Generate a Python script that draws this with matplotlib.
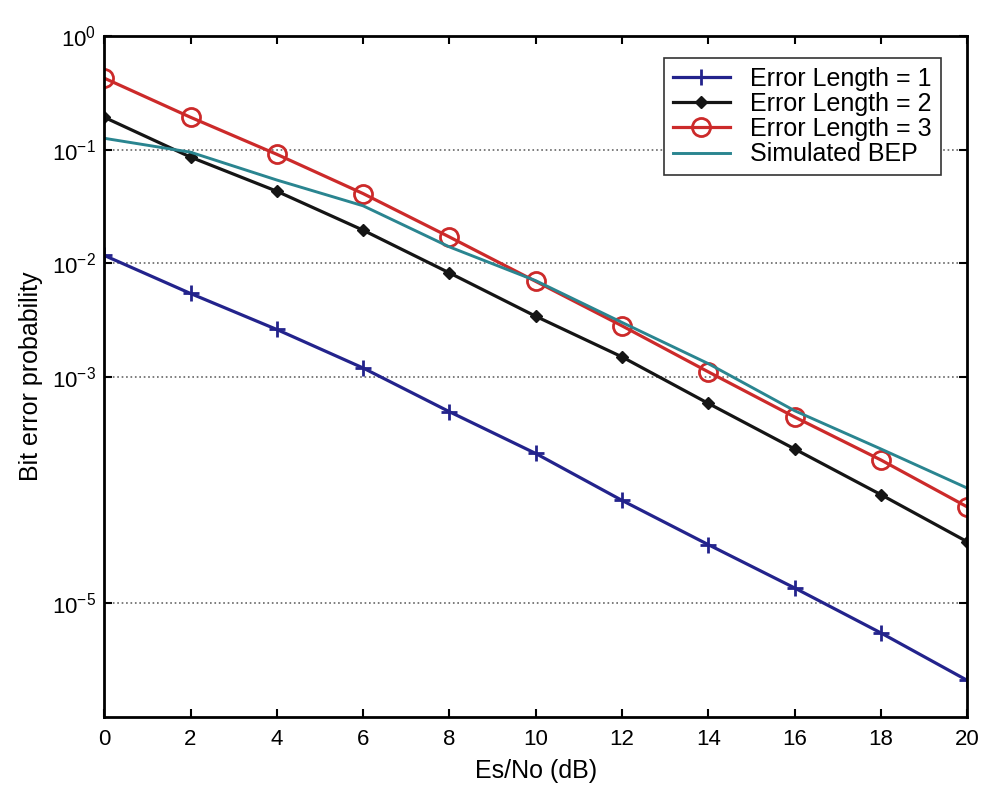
import numpy as np
import matplotlib.pyplot as plt
from matplotlib.ticker import FixedLocator, NullLocator

plt.rcParams['font.family'] = ['Liberation Sans', 'DejaVu Sans']
plt.rcParams['mathtext.fontset'] = 'custom'
plt.rcParams['mathtext.rm'] = 'Liberation Sans'
plt.rcParams['mathtext.it'] = 'Liberation Sans'

# Es/No values (dB)
snr_db = [0, 2, 4, 6, 8, 10, 12, 14, 16, 18, 20]

# bit error probabilities
bep_len1 = [1.17e-2, 5.4e-3, 2.6e-3, 1.19e-3, 4.9e-4, 2.1e-4, 8.1e-5, 3.3e-5, 1.37e-5, 5.5e-6, 2.1e-6]
bep_len2 = [1.93e-1, 8.6e-2, 4.3e-2, 1.95e-2, 8.2e-3, 3.4e-3, 1.49e-3, 5.8e-4, 2.3e-4, 9.1e-5, 3.5e-5]
bep_len3 = [4.27e-1, 1.93e-1, 9.1e-2, 4.1e-2, 1.7e-2, 6.9e-3, 2.8e-3, 1.1e-3, 4.4e-4, 1.84e-4, 7.1e-5]
bep_sim = [1.26e-1, 9.5e-2, 5.4e-2, 3.2e-2, 1.39e-2, 7.0e-3, 3.0e-3, 1.3e-3, 5.0e-4, 2.3e-4, 1.04e-4]

ytick_vals = [1e0, 1e-1, 1e-2, 1e-3, 1e-5]
ytick_labels = [r'$10^{0}$', r'$10^{-1}$', r'$10^{-2}$', r'$10^{-3}$', r'$10^{-5}$']

fig = plt.figure(figsize=(9.83, 7.87), dpi=100)
ax = fig.add_axes([0.106, 0.089, 0.878, 0.865])

ax.semilogy(snr_db, bep_len1, color='#23238c', lw=2.3, marker='+', ms=12, mew=2,
            label='Error Length = 1')
ax.semilogy(snr_db, bep_len2, color='#151515', lw=2.3, marker='D', ms=6,
            label='Error Length = 2')
ax.semilogy(snr_db, bep_len3, color='#cc2a2a', lw=2.3, marker='o', ms=13, mew=2,
            mfc='none', label='Error Length = 3')
ax.semilogy(snr_db, bep_sim, color='#2a8590', lw=2.1, label='Simulated BEP')

ax.set_xlim(0, 20)
ax.set_ylim(1e-6, 1)
ax.set_xticks(snr_db)
ax.yaxis.set_major_locator(FixedLocator(ytick_vals))
ax.yaxis.set_minor_locator(NullLocator())
ax.set_yticklabels(ytick_labels)
ax.yaxis.grid(True, linestyle=':', color='#666666', lw=1.2)

ax.tick_params(direction='in', top=True, right=True, length=6, width=1.5, labelsize=16)
ax.tick_params(axis='x', pad=9)
ax.tick_params(axis='y', pad=6)
for s in ax.spines.values():
    s.set_linewidth(2)

ax.set_xlabel('Es/No (dB)', fontsize=18, labelpad=6)
ax.set_ylabel('Bit error probability', fontsize=18, labelpad=6)

leg = ax.legend(loc='upper right', bbox_to_anchor=(0.969, 0.968), fontsize=18,
                fancybox=False, framealpha=1, edgecolor='#333333',
                handlelength=2.3, handletextpad=0.8, borderpad=0.35,
                borderaxespad=0, labelspacing=0.05)
leg.get_frame().set_linewidth(1.2)

fig.savefig('out.png', dpi=100)
